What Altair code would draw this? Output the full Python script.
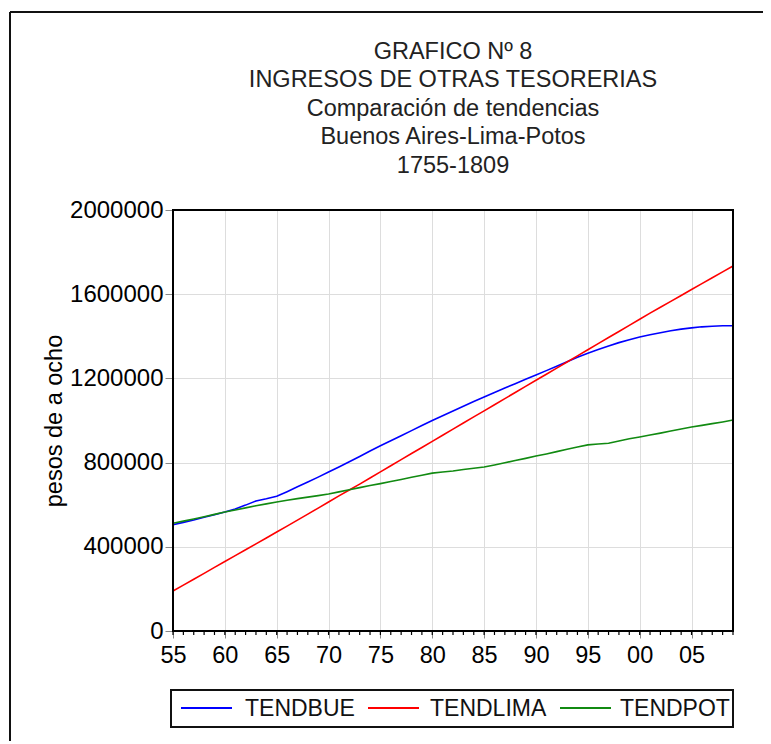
import altair as alt
import pandas as pd

years = list(range(1755, 1810))

tendbue = [505, 516, 527, 540, 552, 565, 580, 598, 618, 628,
           640, 662, 685, 708, 731, 755, 779, 804, 829, 855,
           880, 904, 928, 952, 976, 1000, 1023, 1045, 1068, 1090,
           1112, 1133, 1154, 1175, 1196, 1216, 1237, 1258, 1279, 1300,
           1320, 1337, 1354, 1370, 1384, 1397, 1407, 1417, 1426, 1434,
           1440, 1445, 1448, 1450, 1450]

tendlima = [190, 218, 246, 274, 302, 330, 358, 386, 414, 442,
            470, 498, 527, 555, 584, 613, 642, 670, 698, 727,
            756, 785, 814, 843, 872, 901, 930, 959, 988, 1017,
            1046, 1075, 1104, 1133, 1162, 1191, 1220, 1249, 1278, 1307,
            1336, 1365, 1394, 1423, 1452, 1481, 1510, 1538, 1566, 1594,
            1622, 1650, 1678, 1706, 1734]

tendpot = [512, 522, 532, 543, 554, 565, 575, 585, 595, 604,
           613, 621, 629, 636, 643, 651, 661, 671, 681, 691,
           700, 710, 720, 730, 740, 750, 755, 760, 767, 773,
           779, 789, 799, 810, 820, 831, 841, 852, 863, 874,
           884, 888, 892, 903, 913, 922, 931, 940, 950, 960,
           969, 977, 985, 993, 1002]

series_names = ["TENDBUE", "TENDLIMA", "TENDPOT"]
series_colors = ["#0000ff", "#ff0000", "#118a11"]
major_years = [1755, 1760, 1765, 1770, 1775, 1780, 1785, 1790, 1795, 1800, 1805]
y_ticks = [0, 400000, 800000, 1200000, 1600000, 2000000]
title_lines = ["GRAFICO Nº 8", "INGRESOS DE OTRAS TESORERIAS",
               "Comparación de tendencias", "Buenos Aires-Lima-Potos", "1755-1809"]

rows = []
for name, vals in zip(series_names, [tendbue, tendlima, tendpot]):
    for yr, v in zip(years, vals):
        rows.append({"year": yr, "value": v * 1000, "serie": name})
df = pd.DataFrame(rows)
ticks_df = pd.DataFrame({"year": years})
one_df = pd.DataFrame({"a": [0]})

FONT = "Liberation Sans"
TXT = "#222222"
W, H = 560, 421

xscale = alt.Scale(domain=[1755, 1809], nice=False, zero=False)
yscale = alt.Scale(domain=[0, 2000000], nice=False)

lines = alt.Chart(df).mark_line(strokeWidth=1.6).encode(
    x=alt.X("year:Q", scale=xscale,
            axis=alt.Axis(values=major_years, title=None, labelFlush=False,
                          labelExpr="substring(toString(datum.value), 2, 4)",
                          tickSize=7, labelPadding=5, labelFontSize=23.5)),
    y=alt.Y("value:Q", scale=yscale,
            axis=alt.Axis(values=y_ticks, title="pesos de a ocho", format="d",
                          tickSize=8, labelPadding=2, labelFontSize=24,
                          titleFontSize=23.5, titlePadding=3,
                          titleFontWeight="normal")),
    color=alt.Color("serie:N",
                    scale=alt.Scale(domain=series_names, range=series_colors),
                    legend=None),
)

minor = alt.Chart(ticks_df).mark_rule(color="#000", strokeWidth=1.2).encode(
    x=alt.X("year:Q", scale=xscale),
    y=alt.value(H),
    y2=alt.value(H + 4),
)

plot_frame = alt.Chart(one_df).mark_rect(fillOpacity=0, stroke="#000", strokeWidth=2).encode(
    x=alt.value(0), x2=alt.value(W), y=alt.value(0), y2=alt.value(H))

# outer picture border (top and left)
frame_top = alt.Chart(one_df).mark_rule(color="#111", strokeWidth=2).encode(
    x=alt.value(-163), x2=alt.value(620), y=alt.value(-198))
frame_left = alt.Chart(one_df).mark_rule(color="#111", strokeWidth=2).encode(
    x=alt.value(-163), y=alt.value(-198), y2=alt.value(560))

# legend drawn below the plot
legend_box = alt.Chart(one_df).mark_rect(fill="white", stroke="#111", strokeWidth=2).encode(
    x=alt.value(-2), x2=alt.value(560), y=alt.value(480), y2=alt.value(517))
legend_layers = [legend_box]
legend_sym_x = [8, 195, 387]
legend_txt_x = [72, 257, 447]
for name, col, sx, tx in zip(series_names, series_colors, legend_sym_x, legend_txt_x):
    legend_layers.append(
        alt.Chart(one_df).mark_rule(color=col, strokeWidth=2).encode(
            x=alt.value(sx), x2=alt.value(sx + 51), y=alt.value(498)))
    legend_layers.append(
        alt.Chart(one_df).mark_text(text=name, font=FONT, fontSize=23, color="#111",
                                    align="left", baseline="middle").encode(
            x=alt.value(tx), y=alt.value(499)))

chart = alt.layer(frame_top, frame_left, lines, minor, plot_frame, *legend_layers).properties(
    width=W, height=H,
    title=alt.TitleParams(text=title_lines, fontSize=23.5, font=FONT,
                          fontWeight="normal", color=TXT, lineHeight=28.5,
                          anchor="middle", frame="group", offset=-166),
    autosize=alt.AutoSizeParams(type="none"),
    padding={"left": 165, "top": 202, "right": 30, "bottom": 110},
).configure_view(
    stroke="#000", strokeWidth=2
).configure_axis(
    labelFont=FONT, titleFont=FONT, labelColor=TXT, titleColor=TXT,
    domainColor="#000", domainWidth=2, tickColor="#000", tickWidth=1.5,
    grid=True, gridColor="#9a9a9a", gridDash=[1.5, 2.5], gridWidth=1,
).configure(background="white")

chart.save("out.html", embed_options={"renderer": "svg", "actions": False})
